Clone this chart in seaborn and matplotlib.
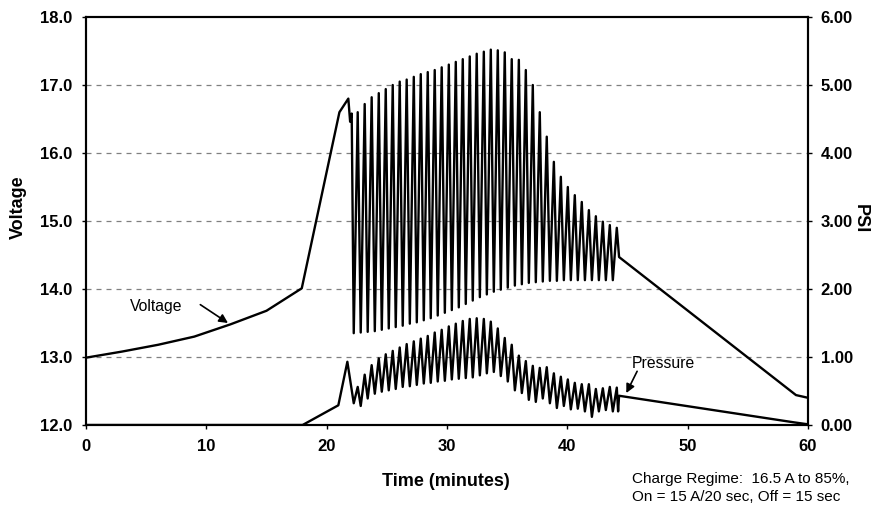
import pandas as pd
import seaborn as sns
import matplotlib.pyplot as plt

# Voltage before the pulsed charge starts (minutes, volts)
pre_time = [0.0, 3.0, 6.0, 9.0, 12.0, 15.0, 17.93, 21.06, 21.80, 21.95, 22.08]
pre_volt = [12.99, 13.08, 13.18, 13.30, 13.48, 13.68, 14.01, 16.60, 16.80, 16.46, 16.58]

# Pulse cycles: trough (end of off) and peak (end of on) times
trough_time = [22.25, 22.83, 23.41, 24.00, 24.58, 25.16, 25.74, 26.32, 26.91, 27.49,
               28.07, 28.65, 29.23, 29.82, 30.40, 30.98, 31.56, 32.14, 32.73, 33.31,
               33.89, 34.47, 35.05, 35.64, 36.22, 36.80, 37.38, 37.96, 38.55, 39.13,
               39.71, 40.29, 40.87, 41.46, 42.04, 42.62, 43.20, 43.78]
peak_time = [22.58, 23.16, 23.74, 24.33, 24.91, 25.49, 26.07, 26.65, 27.24, 27.82,
             28.40, 28.98, 29.56, 30.15, 30.73, 31.31, 31.89, 32.47, 33.06, 33.64,
             34.22, 34.80, 35.38, 35.97, 36.55, 37.13, 37.71, 38.29, 38.88, 39.46,
             40.04, 40.62, 41.20, 41.79, 42.37, 42.95, 43.53, 44.11]

volt_trough = [13.35, 13.36, 13.37, 13.38, 13.40, 13.42, 13.44, 13.46, 13.49, 13.51,
               13.54, 13.57, 13.61, 13.65, 13.69, 13.73, 13.78, 13.83, 13.88, 13.92,
               13.96, 13.99, 14.02, 14.05, 14.07, 14.09, 14.10, 14.11, 14.12, 14.12,
               14.13, 14.13, 14.13, 14.13, 14.13, 14.13, 14.13, 14.13]
volt_peak = [16.60, 16.72, 16.82, 16.88, 16.94, 17.00, 17.05, 17.08, 17.12, 17.16,
             17.19, 17.22, 17.26, 17.30, 17.34, 17.38, 17.42, 17.46, 17.49, 17.52,
             17.51, 17.48, 17.38, 17.37, 17.22, 17.00, 16.60, 16.24, 15.87, 15.65,
             15.50, 15.38, 15.28, 15.16, 15.07, 14.99, 14.94, 14.90]

# Voltage after the pulses stop
post_time = [44.30, 59.00, 60.00]
post_volt = [14.47, 12.44, 12.40]

# Pressure (psi)
pre_p_time = [0.0, 18.0, 20.97, 21.72]
pre_psi = [0.0, 0.0, 0.29, 0.93]
psi_trough = [0.32, 0.28, 0.39, 0.46, 0.49, 0.51, 0.53, 0.56, 0.57, 0.59,
              0.61, 0.62, 0.64, 0.65, 0.67, 0.68, 0.69, 0.70, 0.73, 0.76,
              0.78, 0.72, 0.64, 0.51, 0.47, 0.37, 0.34, 0.39, 0.32, 0.25,
              0.28, 0.23, 0.24, 0.20, 0.12, 0.20, 0.22, 0.20]
psi_peak = [0.56, 0.74, 0.88, 0.98, 1.04, 1.09, 1.14, 1.19, 1.23, 1.27,
            1.31, 1.36, 1.40, 1.45, 1.49, 1.53, 1.56, 1.57, 1.56, 1.52,
            1.42, 1.28, 1.18, 1.02, 0.94, 0.87, 0.84, 0.85, 0.76, 0.71,
            0.67, 0.62, 0.60, 0.60, 0.53, 0.54, 0.56, 0.55]
post_p_time = [44.22, 44.30, 58.80, 60.00]
post_psi = [0.20, 0.43, 0.04, 0.01]


def build(t0, y0, tr, ytr, pk, ypk, t1, y1):
    t, y = list(t0), list(y0)
    for a, b, c, d in zip(tr, ytr, pk, ypk):
        t += [a, c]
        y += [b, d]
    return pd.DataFrame({"time": t + list(t1), "val": y + list(y1)})


volt_df = build(pre_time, pre_volt, trough_time, volt_trough, peak_time, volt_peak, post_time, post_volt)
psi_df = build(pre_p_time, pre_psi, trough_time, psi_trough, peak_time, psi_peak, post_p_time, post_psi)

sns.set_style("ticks")
plt.rcParams['font.family'] = ['Liberation Sans', 'DejaVu Sans']
plt.rcParams['text.color'] = 'black'
plt.rcParams['axes.labelcolor'] = 'black'

fig = plt.figure(figsize=(8.75, 5.09), dpi=100)
ax = fig.add_axes([86 / 875, 1 - 425 / 509, 722 / 875, 408 / 509])

for yv in [13, 14, 15, 16, 17]:
    ax.axhline(yv, color="#808080", lw=0.9, ls=(0, (4, 4)), zorder=0)

sns.lineplot(data=volt_df, x="time", y="val", ax=ax, color="black", lw=1.7,
             sort=False, estimator=None)
ax.set_xlim(0, 60)
ax.set_ylim(12, 18)
ax.set_xticks(range(0, 61, 10))
ax.set_yticks(range(12, 19))
ax.set_yticklabels([f"{v:.1f}" for v in range(12, 19)])

ax2 = ax.twinx()
sns.lineplot(data=psi_df, x="time", y="val", ax=ax2, color="black", lw=1.7,
             sort=False, estimator=None)
ax2.set_ylim(0, 6)
ax2.set_yticks(range(0, 7))
ax2.set_yticklabels([f"{v:.2f}" for v in range(0, 7)])

for a in (ax, ax2):
    for s in a.spines.values():
        s.set_linewidth(1.5)
        s.set_color("black")
    a.tick_params(direction="out", length=3, width=1, labelsize=12, colors="black")
    for lab in a.get_xticklabels() + a.get_yticklabels():
        lab.set_fontweight("bold")
ax.tick_params(axis="x", pad=7)
ax.tick_params(axis="y", pad=7)
ax2.tick_params(axis="y", pad=6)

ax.set_xlabel("Time (minutes)", fontsize=13, fontweight="bold")
ax.set_ylabel("Voltage", fontsize=13, fontweight="bold")
ax2.set_ylabel("PSI", fontsize=13, fontweight="bold", rotation=270, va="center")
ax.xaxis.set_label_coords(0.4986, -0.118)
ax.yaxis.set_label_coords(-0.082, 0.535)
ax2.yaxis.set_label_coords(1.072, 0.505)

arrow = dict(arrowstyle="-|>", color="black", lw=1.2, mutation_scale=13, shrinkA=0, shrinkB=0)
ax.annotate("Voltage", xy=(11.8, 13.5), xytext=(5.86, 13.74), fontsize=11.3,
            ha="center", va="center")
ax.annotate("", xy=(11.8, 13.5), xytext=(9.5, 13.77), arrowprops=arrow)
ax2.annotate("Pressure", xy=(44.9, 0.47), xytext=(48.0, 0.90), fontsize=11.3,
             ha="center", va="center")
ax2.annotate("", xy=(44.9, 0.47), xytext=(45.8, 0.79), arrowprops=arrow)

fig.text(632 / 875, 1 - 488 / 509, "Charge Regime:  16.5 A to 85%,\nOn = 15 A/20 sec, Off = 15 sec",
         fontsize=11, ha="left", va="center", linespacing=1.45)

fig.savefig("out.png", dpi=100)
